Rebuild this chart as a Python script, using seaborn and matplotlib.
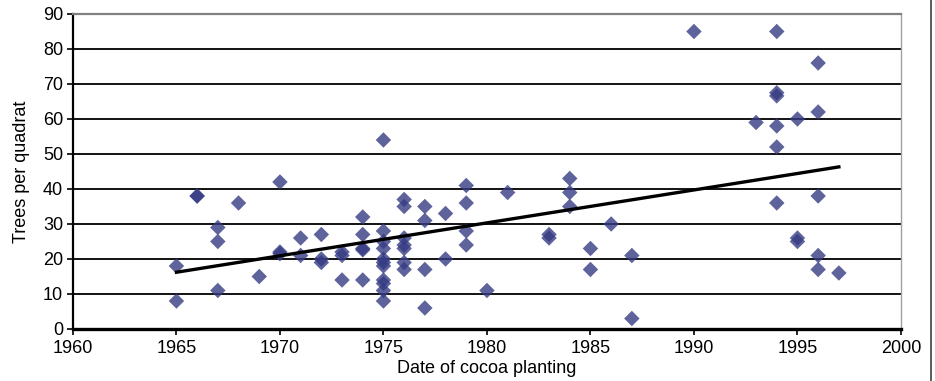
import numpy as np
import pandas as pd
import matplotlib
matplotlib.use("Agg")
import matplotlib.pyplot as plt
import seaborn as sns
from matplotlib.lines import Line2D

# Planting year and trees per quadrat
years = [1965, 1965,
         1966, 1966,
         1967, 1967, 1967,
         1968,
         1969,
         1970, 1970, 1970,
         1971, 1971,
         1972, 1972, 1972,
         1973, 1973, 1973,
         1974, 1974, 1974, 1974, 1974,
         1975, 1975, 1975, 1975, 1975, 1975, 1975, 1975, 1975, 1975, 1975,
         1976, 1976, 1976, 1976, 1976, 1976, 1976,
         1977, 1977, 1977, 1977,
         1978, 1978,
         1979, 1979, 1979, 1979,
         1980,
         1981,
         1983, 1983,
         1984, 1984, 1984,
         1985, 1985,
         1986,
         1987, 1987,
         1990,
         1993,
         1994, 1994, 1994, 1994, 1994, 1994,
         1995, 1995, 1995,
         1996, 1996, 1996, 1996, 1996,
         1997]
trees = [18, 8,
         38, 38,
         29, 25, 11,
         36,
         15,
         42, 22, 21.5,
         26, 21,
         27, 20, 19,
         22, 21, 14,
         32, 27, 23, 22.6, 14,
         54, 28, 25, 23, 20, 19, 18, 14, 13, 11, 8,
         37, 35, 26, 24, 23, 19, 17,
         35, 31, 17, 6,
         33, 20,
         41, 36, 28, 24,
         11,
         39,
         27, 26,
         43, 39, 35,
         23, 17,
         30,
         21, 3,
         85,
         59,
         85, 67.5, 66.6, 58, 52, 36,
         60, 26, 25,
         76, 62, 38, 21, 17,
         16]

df = pd.DataFrame({"year": years, "trees": trees})

plt.rcParams['font.family'] = ['Liberation Sans', 'DejaVu Sans']

fig = plt.figure(figsize=(9.35, 3.81), dpi=100)
ax = fig.add_axes([0.078, 0.1365, 0.8856, 0.8268])

# horizontal gridlines
for v in range(10, 90, 10):
    ax.axhline(v, color='black', lw=1.3, zorder=1)

sns.scatterplot(data=df, x='year', y='trees', marker='D', s=62,
                color='#363c84', alpha=0.8, edgecolor='none', ax=ax, zorder=3)
sns.regplot(data=df, x='year', y='trees', scatter=False, ci=None,
            line_kws={'color': 'black', 'lw': 2.4, 'zorder': 4}, ax=ax)

ax.set_xlim(1960, 2000)
ax.set_ylim(0, 90)
ax.set_xticks(range(1960, 2001, 5))
ax.set_yticks(range(0, 91, 10))
ax.tick_params(axis='both', labelsize=13, length=4, width=1.2, pad=3, color='black')
ax.tick_params(axis='x', pad=4)

ax.set_xlabel('Date of cocoa planting', fontsize=13, labelpad=2)
ax.set_ylabel('Trees per quadrat', fontsize=13, labelpad=9)

ax.spines['left'].set_color('black')
ax.spines['left'].set_linewidth(1.6)
ax.spines['bottom'].set_color('black')
ax.spines['bottom'].set_linewidth(2.4)
ax.spines['top'].set_color('#808080')
ax.spines['top'].set_linewidth(1.6)
ax.spines['right'].set_color('#a0a0a0')
ax.spines['right'].set_linewidth(1.0)

# outer frame line at the right edge of the chart area
fig.add_artist(Line2D([0.996, 0.996], [0, 1], transform=fig.transFigure,
                      color='#404040', lw=1.2))

fig.savefig('out.png', dpi=100)
